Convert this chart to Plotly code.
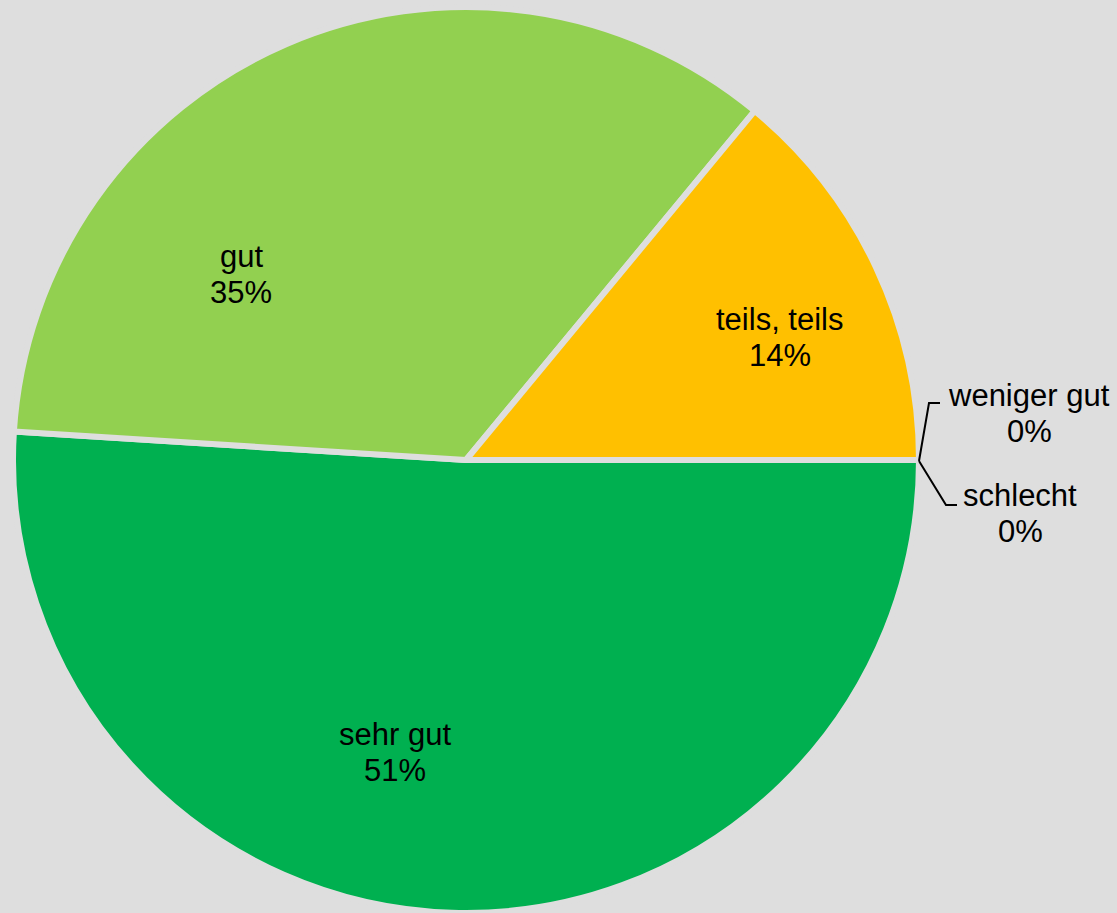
import plotly.graph_objects as go

# Survey answers and their shares (percent)
categories = ["sehr gut", "gut", "teils, teils", "weniger gut", "schlecht"]
shares = [51, 35, 14, 0, 0]
colors = ["#00B050", "#92D050", "#FFC000", "#4472C4", "#C00000"]

W, H = 1117, 913
BG = "#DEDEDE"
FONT = "Liberation Sans, Arial, sans-serif"


def px(x, y):
    """Convert pixel position (from top-left) to paper coordinates."""
    return x / W, 1 - y / H


fig = go.Figure(
    go.Pie(
        labels=categories,
        values=shares,
        sort=False,
        direction="clockwise",
        rotation=90,
        marker=dict(colors=colors, line=dict(color=BG, width=6)),
        textinfo="none",
        hoverinfo="label+percent",
        showlegend=False,
        domain=dict(x=[13 / W, 919 / W], y=[0, 1 - 7 / H]),
    )
)

# Label placement (pixel centres of the name line and percent line)
label_pos = {
    "sehr gut": ((395, 734), (395, 770)),
    "gut": ((241, 256), (241, 292)),
    "teils, teils": ((780, 320), (780, 355)),
    "weniger gut": ((1029, 395), (1029, 431)),
    "schlecht": ((1020, 495), (1020, 531)),
}

annotations = []
for name, val in zip(categories, shares):
    (nx, ny), (vx, vy) = label_pos[name]
    for text, (x, y) in ((name, (nx, ny)), (f"{val:.0f}%", (vx, vy))):
        xp, yp = px(x, y)
        annotations.append(
            dict(
                x=xp, y=yp, xref="paper", yref="paper",
                text=text, showarrow=False,
                xanchor="center", yanchor="middle",
                font=dict(family=FONT, size=31, color="#000000"),
            )
        )

# Leader lines for the zero-share categories
shapes = []
for pts in (
    [(919, 461), (929, 403), (940, 403)],
    [(919, 461), (946, 505), (957, 505)],
):
    path = "M " + " L ".join(f"{px(x, y)[0]},{px(x, y)[1]}" for x, y in pts)
    shapes.append(
        dict(type="path", xref="paper", yref="paper", path=path,
             line=dict(color="#000000", width=2))
    )

fig.update_layout(
    width=W,
    height=H,
    margin=dict(l=0, r=0, t=0, b=0),
    paper_bgcolor=BG,
    plot_bgcolor=BG,
    annotations=annotations,
    shapes=shapes,
)

fig.write_html("out.html")
